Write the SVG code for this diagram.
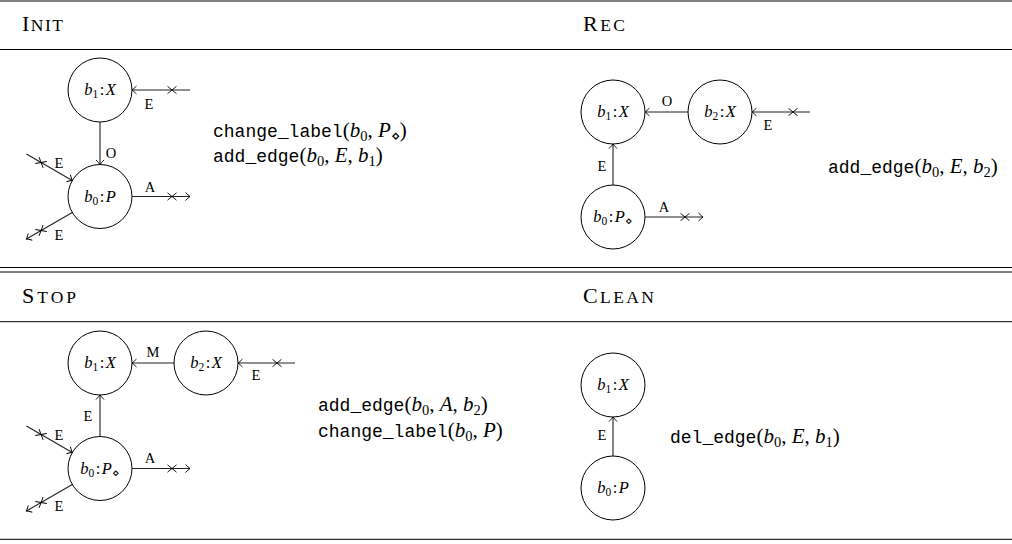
<svg xmlns="http://www.w3.org/2000/svg" width="1012" height="544" viewBox="0 0 1012 544">
<style>
.rule{stroke:#000;stroke-width:1}
.hd{font-family:"Liberation Serif",serif;font-size:22px;fill:#000}
.sc{font-size:17.5px}
.node circle{fill:#fff;stroke:#000;stroke-width:1}
.nl{font-family:"Liberation Serif",serif;font-size:16.5px;fill:#000}
.it{font-style:italic}
.sub{font-size:11.5px}
.el{font-family:"Liberation Serif",serif;font-size:14.5px;fill:#000;text-anchor:middle}
.ea{stroke:#222;stroke-width:1.1;fill:none;marker-end:url(#arr)}
.x{stroke:#000;stroke-width:0.9;fill:none}
.op{font-family:"Liberation Serif",serif;font-size:21px;fill:#000}
.tt{font-family:"Liberation Mono",monospace;font-size:18px}
.msub{font-size:14.5px}
</style>
<defs>
<marker id="arr" viewBox="-7 -6 9 12" refX="0" refY="0" markerWidth="9" markerHeight="12" orient="auto" markerUnits="userSpaceOnUse" overflow="visible">
<path d="M-4.5,-4 Q-1.5,-1 0,0 Q-1.5,1 -4.5,4" fill="none" stroke="#000" stroke-width="0.9"/>
</marker>
<path id="cross" d="M-4.5,-3.7 L4.5,3.7 M-4.5,3.7 L4.5,-3.7"/>
</defs>

<g id="table-rules">
<line class="rule" x1="0" y1="1" x2="1012" y2="1" stroke-width="1.4"/>
<line class="rule" x1="0" y1="49.5" x2="1012" y2="49.5"/>
<line class="rule" x1="0" y1="267.5" x2="1012" y2="267.5"/>
<line class="rule" x1="0" y1="272" x2="1012" y2="272"/>
<line class="rule" x1="0" y1="321.7" x2="1012" y2="321.7" stroke-width="1.2"/>
<line class="rule" x1="0" y1="539.3" x2="1012" y2="539.3" stroke-width="1.4"/>
</g>

<g id="headers">
<text class="hd" x="22" y="31" textLength="41" lengthAdjust="spacing">I<tspan class="sc">NIT</tspan></text>
<text class="hd" x="583" y="31" textLength="42" lengthAdjust="spacing">R<tspan class="sc">EC</tspan></text>
<text class="hd" x="22" y="303" textLength="54" lengthAdjust="spacing">S<tspan class="sc">TOP</tspan></text>
<text class="hd" x="583" y="303" textLength="71" lengthAdjust="spacing">C<tspan class="sc">LEAN</tspan></text>
</g>

<g id="connectors">
<!-- INIT -->
<line class="ea" x1="100" y1="122" x2="100" y2="164.5"/>
<line class="ea" x1="190" y1="90" x2="132" y2="90"/>
<line class="ea" x1="132" y1="196.5" x2="190" y2="196.5"/>
<line class="ea" x1="26.4" y1="154" x2="72.3" y2="180.5"/>
<line class="ea" x1="72.3" y1="212.5" x2="26.4" y2="239"/>
<use href="#cross" class="x" transform="translate(172,90)"/>
<use href="#cross" class="x" transform="translate(172,196.5)"/>
<use href="#cross" class="x" transform="translate(41.1,162.5) rotate(30)"/>
<use href="#cross" class="x" transform="translate(41.1,230.5) rotate(-30)"/>
<text class="el" x="111" y="158">O</text>
<text class="el" x="149" y="109">E</text>
<text class="el" x="150" y="192">A</text>
<text class="el" x="59" y="168">E</text>
<text class="el" x="59" y="240">E</text>
<!-- REC -->
<line class="ea" x1="688" y1="112" x2="645" y2="112"/>
<line class="ea" x1="810" y1="112" x2="752" y2="112"/>
<line class="ea" x1="613" y1="185" x2="613" y2="144"/>
<line class="ea" x1="645" y1="217" x2="703" y2="217"/>
<use href="#cross" class="x" transform="translate(793,112)"/>
<use href="#cross" class="x" transform="translate(685,217)"/>
<text class="el" x="667" y="106">O</text>
<text class="el" x="768" y="130">E</text>
<text class="el" x="602" y="171">E</text>
<text class="el" x="664" y="212">A</text>
<!-- STOP -->
<line class="ea" x1="174" y1="363" x2="132" y2="363"/>
<line class="ea" x1="295" y1="363" x2="238" y2="363"/>
<line class="ea" x1="100" y1="436.5" x2="100" y2="395"/>
<line class="ea" x1="132" y1="468.5" x2="190" y2="468.5"/>
<line class="ea" x1="26.4" y1="426" x2="72.3" y2="452.5"/>
<line class="ea" x1="72.3" y1="484.5" x2="26.4" y2="511"/>
<use href="#cross" class="x" transform="translate(277,363)"/>
<use href="#cross" class="x" transform="translate(172,468.5)"/>
<use href="#cross" class="x" transform="translate(41.1,434.5) rotate(30)"/>
<use href="#cross" class="x" transform="translate(41.1,502.5) rotate(-30)"/>
<text class="el" x="153" y="357">M</text>
<text class="el" x="256" y="380">E</text>
<text class="el" x="88" y="421">E</text>
<text class="el" x="59" y="440">E</text>
<text class="el" x="59" y="511">E</text>
<text class="el" x="150" y="463">A</text>
<!-- CLEAN -->
<line class="ea" x1="613" y1="456" x2="613" y2="417"/>
<text class="el" x="602" y="440">E</text>
</g>

<g id="init-b1" class="node"><circle cx="100" cy="90" r="32"/><text class="nl" x="100" y="95" text-anchor="middle"><tspan class="it">b</tspan><tspan class="sub" dy="3">1</tspan><tspan dy="-3" dx="1.5">:</tspan><tspan class="it" dx="1.5">X</tspan></text></g>
<g id="init-b0" class="node"><circle cx="100" cy="196.5" r="32"/><text class="nl" x="100" y="201.5" text-anchor="middle"><tspan class="it">b</tspan><tspan class="sub" dy="3">0</tspan><tspan dy="-3" dx="1.5">:</tspan><tspan class="it" dx="1.5">P</tspan></text></g>

<g id="rec-b1" class="node"><circle cx="613" cy="112" r="32"/><text class="nl" x="613" y="117" text-anchor="middle"><tspan class="it">b</tspan><tspan class="sub" dy="3">1</tspan><tspan dy="-3" dx="1.5">:</tspan><tspan class="it" dx="1.5">X</tspan></text></g>
<g id="rec-b2" class="node"><circle cx="720" cy="112" r="32"/><text class="nl" x="720" y="117" text-anchor="middle"><tspan class="it">b</tspan><tspan class="sub" dy="3">2</tspan><tspan dy="-3" dx="1.5">:</tspan><tspan class="it" dx="1.5">X</tspan></text></g>
<g id="rec-b0" class="node"><circle cx="613" cy="217" r="32"/><text class="nl" x="613" y="222" text-anchor="middle"><tspan class="it">b</tspan><tspan class="sub" dy="3">0</tspan><tspan dy="-3" dx="1.5">:</tspan><tspan class="it" dx="1.5">P</tspan><tspan class="sub" dy="3">⋄</tspan></text></g>

<g id="stop-b1" class="node"><circle cx="100" cy="363" r="32"/><text class="nl" x="100" y="368" text-anchor="middle"><tspan class="it">b</tspan><tspan class="sub" dy="3">1</tspan><tspan dy="-3" dx="1.5">:</tspan><tspan class="it" dx="1.5">X</tspan></text></g>
<g id="stop-b2" class="node"><circle cx="206" cy="363" r="32"/><text class="nl" x="206" y="368" text-anchor="middle"><tspan class="it">b</tspan><tspan class="sub" dy="3">2</tspan><tspan dy="-3" dx="1.5">:</tspan><tspan class="it" dx="1.5">X</tspan></text></g>
<g id="stop-b0" class="node"><circle cx="100" cy="468.5" r="32"/><text class="nl" x="100" y="473.5" text-anchor="middle"><tspan class="it">b</tspan><tspan class="sub" dy="3">0</tspan><tspan dy="-3" dx="1.5">:</tspan><tspan class="it" dx="1.5">P</tspan><tspan class="sub" dy="3">⋄</tspan></text></g>

<g id="clean-b1" class="node"><circle cx="613" cy="385" r="32"/><text class="nl" x="613" y="390" text-anchor="middle"><tspan class="it">b</tspan><tspan class="sub" dy="3">1</tspan><tspan dy="-3" dx="1.5">:</tspan><tspan class="it" dx="1.5">X</tspan></text></g>
<g id="clean-b0" class="node"><circle cx="613" cy="488" r="32"/><text class="nl" x="613" y="493" text-anchor="middle"><tspan class="it">b</tspan><tspan class="sub" dy="3">0</tspan><tspan dy="-3" dx="1.5">:</tspan><tspan class="it" dx="1.5">P</tspan></text></g>

<g id="operations">
<text class="op" x="213" y="137"><tspan class="tt">change_label</tspan>(<tspan class="it">b</tspan><tspan class="msub" dy="4">0</tspan><tspan dy="-4">, </tspan><tspan class="it">P</tspan><tspan class="msub" dy="4">⋄</tspan><tspan dy="-4">)</tspan></text>
<text class="op" x="213" y="162"><tspan class="tt">add_edge</tspan>(<tspan class="it">b</tspan><tspan class="msub" dy="4">0</tspan><tspan dy="-4">, </tspan><tspan class="it">E</tspan>, <tspan class="it">b</tspan><tspan class="msub" dy="4">1</tspan><tspan dy="-4">)</tspan></text>
<text class="op" x="828" y="173"><tspan class="tt">add_edge</tspan>(<tspan class="it">b</tspan><tspan class="msub" dy="4">0</tspan><tspan dy="-4">, </tspan><tspan class="it">E</tspan>, <tspan class="it">b</tspan><tspan class="msub" dy="4">2</tspan><tspan dy="-4">)</tspan></text>
<text class="op" x="318" y="411"><tspan class="tt">add_edge</tspan>(<tspan class="it">b</tspan><tspan class="msub" dy="4">0</tspan><tspan dy="-4">, </tspan><tspan class="it">A</tspan>, <tspan class="it">b</tspan><tspan class="msub" dy="4">2</tspan><tspan dy="-4">)</tspan></text>
<text class="op" x="318" y="437"><tspan class="tt">change_label</tspan>(<tspan class="it">b</tspan><tspan class="msub" dy="4">0</tspan><tspan dy="-4">, </tspan><tspan class="it">P</tspan>)</text>
<text class="op" x="670" y="443"><tspan class="tt">del_edge</tspan>(<tspan class="it">b</tspan><tspan class="msub" dy="4">0</tspan><tspan dy="-4">, </tspan><tspan class="it">E</tspan>, <tspan class="it">b</tspan><tspan class="msub" dy="4">1</tspan><tspan dy="-4">)</tspan></text>
</g>
</svg>
